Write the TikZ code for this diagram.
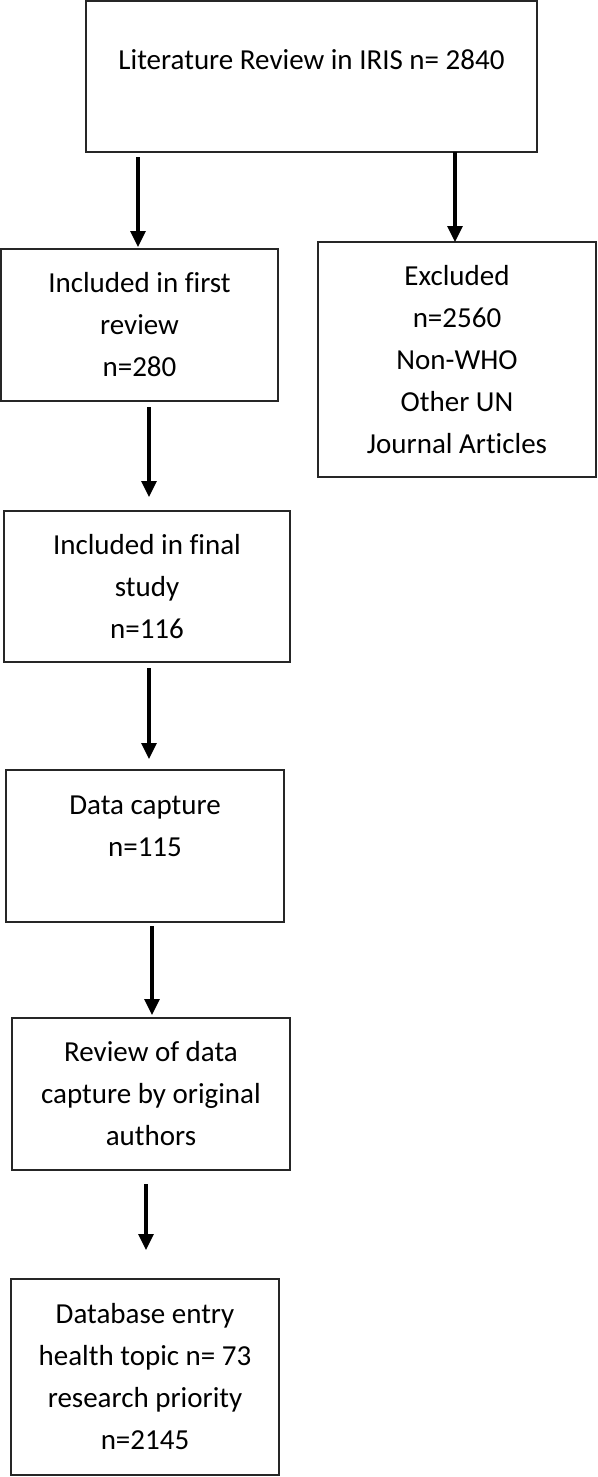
\documentclass[tikz,border=0pt]{standalone}
\usepackage{fontspec}
\setmainfont{Carlito}[Ligatures=NoCommon]
\usepackage{tikz}
\usetikzlibrary{
	arrows.meta,positioning,calc
}
\tikzset{
	flowbox/.style={
		rectangle, draw=black!85, line width=1.3pt, align=center,
		minimum width=278pt, minimum height=152pt, inner sep=0pt, outer sep=0pt,
		font=\fontsize{29pt}{42pt}\selectfont
	},
	%
	flowarrow/.style={
		line width=3.2pt, -{Triangle[width=15pt,length=16pt]}
	}
}

\begin{document}
\begin{tikzpicture}
    \useasboundingbox (0,0) rectangle (597pt,-1477pt);
    \node(lit)[flowbox, minimum width=451pt, minimum height=151pt, text depth=33pt] at (311.5pt,-76.5pt) {Literature Review in IRIS n= 2840};
    \node(incl)[flowbox, below=97pt of lit, xshift=-172pt, minimum width=277pt]{Included in first\\review\\n=280};
    \node(excl)[flowbox, below=90pt of lit, xshift=145.5pt, minimum height=235pt]{Excluded\\n=2560\\Non-WHO\\Other UN\\Journal Articles};
    \node(final)[flowbox, below=110pt of incl, xshift=7.5pt, minimum width=286pt, minimum height=151pt]{Included in final\\study\\n=116};
    \node(cap)[flowbox, below=108pt of final, xshift=-2pt, text depth=40pt]{Data capture\\n=115};
    \node(rev)[flowbox, below=96pt of cap, xshift=6pt]{Review of data\\capture by original\\authors};
    \node(db)[flowbox, below=109pt of rev, xshift=-6pt, minimum width=268pt, minimum height=196pt]{Database entry\\health topic n= 73\\research priority\\n=2145};
    \draw[flowarrow, shorten <=5pt, shorten >=2pt] ($(lit.south -| incl.north)+(-1.5pt,0)$) -- ($(incl.north)+(-1.5pt,0)$);
    \draw[flowarrow] ($(lit.south -| excl.north)+(-2pt,0)$) -- ($(excl.north)+(-2pt,0)$);
    \draw[flowarrow, shorten <=6pt, shorten >=14pt] ($(incl.south -| final.north)+(2pt,0)$) -- ($(final.north)+(2pt,0)$);
    \draw[flowarrow, shorten <=6pt, shorten >=11pt] ($(final.south -| cap.north)+(4pt,0)$) -- ($(cap.north)+(4pt,0)$);
    \draw[flowarrow, shorten <=4pt, shorten >=3pt] ($(cap.south -| rev.north)+(1pt,0)$) -- ($(rev.north)+(1pt,0)$);
    \draw[flowarrow, shorten <=14pt, shorten >=29pt] ($(rev.south -| db.north)+(1pt,0)$) -- ($(db.north)+(1pt,0)$);
\end{tikzpicture}
\end{document}
